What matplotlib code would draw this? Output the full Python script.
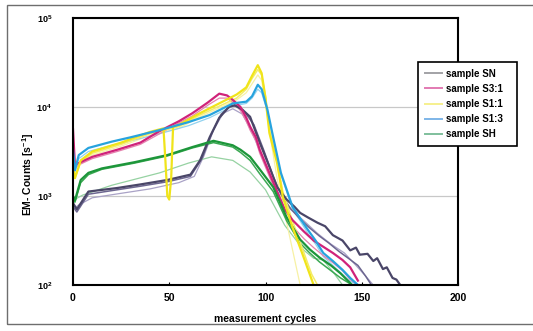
import matplotlib
matplotlib.use("Agg")
import matplotlib.pyplot as plt
from matplotlib.lines import Line2D
from matplotlib.patches import Rectangle
from matplotlib.ticker import FixedLocator, FixedFormatter, NullLocator

plt.rcParams['font.family'] = ['Liberation Sans', 'DejaVu Sans']
plt.rcParams['mathtext.fontset'] = 'custom'
plt.rcParams['mathtext.rm'] = 'Liberation Sans:bold'
plt.rcParams['mathtext.bf'] = 'Liberation Sans:bold'

# ---------------- data (EM counts per second vs measurement cycle) ----------------
sn_c = [0, 2, 8, 23, 35, 49, 61, 66, 71, 76, 81, 84, 88, 92, 97, 102, 106, 111, 115, 118,
        122, 127, 131, 135, 140, 144, 147, 149, 153, 156, 158, 161, 163, 166, 168, 170]
sn_v = [832, 708, 1122, 1230, 1349, 1514, 1738, 2512, 4571, 7586, 10000, 10471, 9333, 7762,
        3981, 2138, 1259, 912, 759, 646, 575, 501, 457, 363, 316, 245, 263, 219, 224, 186,
        200, 151, 158, 120, 115, 100]
sn2_c = [0, 2, 8, 23, 35, 49, 61, 67, 72, 77, 82, 86, 90, 94, 99, 104, 108, 113, 118, 123,
         128, 133, 138, 143, 148, 152, 155]
sn2_v = [759, 661, 1047, 1175, 1288, 1445, 1660, 2630, 5012, 8318, 10471, 10000, 8318, 6310,
         3311, 1660, 1047, 724, 550, 437, 355, 295, 240, 200, 166, 126, 100]
sn3_c = [0, 3, 10, 25, 40, 55, 63, 68, 73, 78, 83, 88, 93, 98, 103, 108, 113, 120, 127, 134,
         141, 147, 152, 156]
sn3_v = [708, 794, 955, 1072, 1202, 1413, 1660, 2818, 5495, 8511, 9550, 8318, 5248, 2818,
         1514, 955, 708, 525, 380, 288, 229, 166, 126, 100]

s31_c = [0, 1, 4, 10, 23, 35, 45, 55, 62, 70, 76, 80, 83, 87, 90, 92, 95, 97, 102, 107, 110,
         114, 120, 125, 130, 135, 140, 144, 148]
s31_v = [5623, 2239, 2399, 2754, 3311, 3981, 5370, 6918, 8511, 11220, 14125, 13490, 12023,
         10000, 7586, 6026, 4571, 3311, 1820, 1000, 708, 537, 398, 316, 269, 229, 191, 158, 112]
s31b_v = [5012, 2089, 2291, 2630, 3162, 3802, 5012, 6607, 7943, 10471, 12589, 12589, 11220,
          9120, 6918, 5495, 4169, 3020, 1660, 912, 631, 457, 331, 263, 214, 178, 145, 115, 100]

s11_c = [0, 1, 4, 10, 25, 40, 47, 48, 49, 50, 51, 52, 55, 65, 75, 85, 90, 93, 96, 98, 100,
         102, 106, 109, 114, 119, 125]
s11_v = [2239, 1585, 2512, 3162, 3981, 5248, 5754, 2512, 1000, 912, 1585, 6026, 6310, 8318,
         10715, 13804, 16596, 22387, 29512, 23988, 12589, 5129, 2344, 977, 447, 229, 100]
s11b_c = [0, 1, 4, 10, 25, 40, 55, 65, 75, 85, 90, 93, 96, 98, 100, 102, 106, 109, 114, 119,
          124, 127]
s11b_v = [1995, 1585, 2399, 3020, 3802, 5012, 6026, 7943, 10000, 12589, 15849, 20893, 26303,
          22909, 13183, 5623, 2512, 1122, 525, 263, 132, 100]
s11c_c = [0, 4, 10, 25, 40, 55, 65, 75, 85, 90, 93, 96, 98, 100, 103, 106, 110, 114, 118]
s11c_v = [1995, 2291, 2884, 3631, 4786, 5754, 7586, 9550, 12023, 14454, 18197, 22909, 19953,
          11220, 3981, 1585, 631, 251, 100]

s13_c = [0, 1, 3, 8, 20, 30, 45, 60, 71, 83, 90, 93, 96, 98, 101, 104, 108, 111, 114, 118,
         122, 126, 130, 135, 140, 144, 148]
s13_v = [3311, 1950, 2884, 3467, 4074, 4571, 5495, 6761, 8128, 10965, 11482, 13183, 17783,
         15849, 9333, 4571, 1820, 1175, 759, 562, 417, 316, 229, 186, 148, 120, 100]
s13b_v = [3020, 1862, 2630, 3162, 3715, 4169, 5012, 6166, 7586, 10233, 10965, 12589, 15849,
          14454, 8913, 4365, 1738, 1122, 724, 525, 380, 288, 209, 166, 132, 110, 100]

sh_c = [0, 1, 4, 8, 15, 32, 49, 62, 73, 83, 87, 92, 97, 104, 111, 118, 123, 128, 134, 139, 145]
sh_v = [1000, 891, 1514, 1820, 2042, 2399, 2884, 3548, 4169, 3715, 3311, 2754, 1995, 1259,
        575, 324, 251, 204, 166, 135, 100]
sh2_v = [955, 851, 1413, 1738, 1995, 2344, 2818, 3467, 3981, 3548, 3090, 2512, 1778, 1122,
         525, 295, 229, 182, 145, 120, 100]
sh3_c = [0, 5, 20, 45, 60, 72, 83, 92, 100, 110, 120, 125, 130, 135, 140]
sh3_v = [891, 1023, 1318, 1820, 2344, 2754, 2512, 1862, 1175, 468, 245, 200, 191, 141, 100]

legend_labels = ["sample SN", "sample S3:1", "sample S1:1", "sample S1:3", "sample SH"]
legend_colors = ["#a2a2a6", "#e27ab2", "#f6f08e", "#7eb6e8", "#7fbf9c"]

x_ticks = [0, 50, 100, 150, 200]
y_ticks = [1e2, 1e3, 1e4, 1e5]
y_ticklabels = [r"$\mathbf{10^{2}}$", r"$\mathbf{10^{3}}$", r"$\mathbf{10^{4}}$", r"$\mathbf{10^{5}}$"]

# ---------------- figure ----------------
W, H = 533, 331
fig = plt.figure(figsize=(W / 100, H / 100), dpi=100)
fig.patch.set_facecolor("white")

# outer frame of the scanned figure
fig.patches.append(Rectangle((7 / W, 1 - 324 / H), (560 - 7) / W, (324 - 5) / H,
                             transform=fig.transFigure, fill=False,
                             edgecolor="#6e6e6e", linewidth=1.0))

ax = fig.add_axes([73 / W, 1 - 285 / H, (458 - 73) / W, (285 - 18) / H])
ax.set_yscale("log")
ax.set_xlim(0, 200)
ax.set_ylim(100, 100000)

# thin replicate traces
ax.plot(sn3_c, sn3_v, color="#a9a2c6", lw=0.9)
ax.plot(sh3_c, sh3_v, color="#96d2a2", lw=0.9)
ax.plot(s11c_c, s11c_v, color="#f7f1a4", lw=0.9)
ax.plot(s13_c, s13b_v, color="#92d2ef", lw=0.9)
ax.plot(s31_c, s31b_v, color="#e582ae", lw=0.9)
ax.plot(sn2_c, sn2_v, color="#6c6690", lw=1.1)
ax.plot(sh_c, sh2_v, color="#3aa852", lw=1.1)
ax.plot(s11b_c, s11b_v, color="#f4ec66", lw=1.1)

# main traces
ax.plot(sn_c, sn_v, color="#4a4668", lw=1.6)
ax.plot(s31_c, s31_v, color="#d0237a", lw=1.6)
ax.plot(sh_c, sh_v, color="#1c963a", lw=1.6)
ax.plot(s11_c, s11_v, color="#f0e41a", lw=1.6)
ax.plot(s13_c, s13_v, color="#27a3de", lw=1.6)

ax.yaxis.set_major_locator(FixedLocator(y_ticks))
ax.yaxis.set_major_formatter(FixedFormatter(y_ticklabels))
ax.yaxis.set_minor_locator(NullLocator())
ax.set_xticks(x_ticks)
ax.set_xticklabels([str(t) for t in x_ticks], fontweight="bold")
ax.tick_params(axis="y", length=0, pad=15, labelsize=6.5)
ax.tick_params(axis="x", length=2, width=0.8, direction="in", pad=6, labelsize=7.5)

ax.grid(axis="y", which="major", color="#c8c8c8", linewidth=0.9)
ax.set_axisbelow(True)
for s in ax.spines.values():
    s.set_linewidth(1.5)
    s.set_color("black")

ax.set_xlabel("measurement cycles", fontsize=7.5, fontweight="bold", labelpad=8)
fig.text(28 / W, 1 - 174 / H, r"EM- Counts [s$^{\mathbf{-1}}$]", rotation=90,
         ha="center", va="center", fontsize=7.5, fontweight="bold")

handles = [Line2D([], [], color=c, lw=1.4) for c in legend_colors]
leg = ax.legend(handles, legend_labels, loc="upper left", mode="expand",
                bbox_to_anchor=(418 / W, 1 - 145 / H, 99 / W, 83 / H),
                bbox_transform=fig.transFigure,
                frameon=True, fancybox=False, edgecolor="black", framealpha=1,
                prop={"family": "Liberation Sans", "weight": "bold", "size": 7},
                handlelength=1.8, handletextpad=0.4, labelspacing=0.52,
                borderpad=0.7, borderaxespad=0)
leg.get_frame().set_linewidth(1.2)
leg.set_zorder(10)

fig.savefig("out.png", dpi=100)
